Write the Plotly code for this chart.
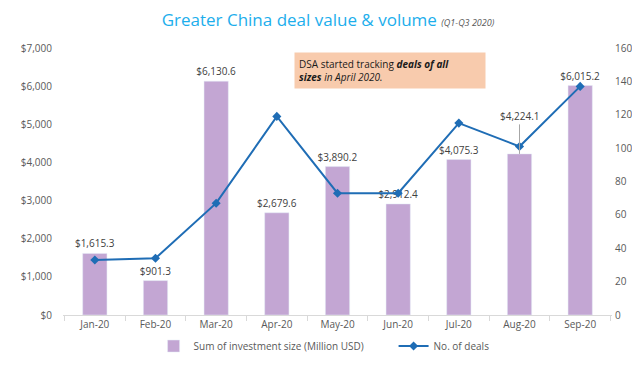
import plotly.graph_objects as go

months = ["Jan-20", "Feb-20", "Mar-20", "Apr-20", "May-20", "Jun-20", "Jul-20", "Aug-20", "Sep-20"]
investment = [1615.3, 901.3, 6130.6, 2679.6, 3890.2, 2912.4, 4075.3, 4224.1, 6015.2]
deals = [33, 34, 67, 119, 73, 73, 115, 101, 137]

FONT = "Open Sans"
GRAY = "#595959"

bar_text = ["" if m == "Aug-20" else f"${v:,.1f}" for m, v in zip(months, investment)]

fig = go.Figure()
fig.add_trace(go.Bar(
    x=months, y=investment, name="Sum of investment size (Million USD)",
    marker_color="#C3A6D3", width=0.4,
    text=bar_text, textposition="outside", cliponaxis=False, constraintext="none",
    textfont=dict(size=10, color="#404040", family=FONT),
))
fig.add_trace(go.Scatter(
    x=months, y=deals, name="No. of deals", yaxis="y2",
    mode="lines+markers", line=dict(color="#1F6DB5", width=2),
    marker=dict(symbol="diamond", size=7, color="#1F6DB5"),
))

aug_i = months.index("Aug-20")
fig.add_annotation(
    x=months[aug_i], y=investment[aug_i], text=f"${investment[aug_i]:,.1f}",
    showarrow=True, arrowhead=0, arrowcolor="#A6A6A6", arrowwidth=1,
    ax=0, ay=-38, standoff=0, font=dict(size=10, color="#404040", family=FONT),
)

fig.add_annotation(
    xref="paper", yref="paper", x=0.421, y=0.985, xanchor="left", yanchor="top",
    text="DSA started tracking <b><i>deals of all</i></b><br><b><i>sizes</i></b> <i>in April 2020.</i>",
    showarrow=False, align="left", bgcolor="#F8CBAD", width=182, height=27, borderpad=4,
    font=dict(size=10, color="#1a1a1a", family=FONT),
)

fig.update_layout(
    width=640, height=365,
    margin=dict(l=55, r=36, t=40, b=48),
    paper_bgcolor="white", plot_bgcolor="white",
    font=dict(family=FONT, color=GRAY, size=10),
    title=dict(
        text="Greater China deal value & volume <span style='font-size:9px;color:#595959'><i>(Q1-Q3 2020)</i></span>",
        x=0.5, xanchor="center", y=0.966, yanchor="middle",
        font=dict(size=17, color="#1CAEEC", family=FONT),
    ),
    bargap=0.6,
    showlegend=True,
    legend=dict(orientation="h", x=0.165, xanchor="left", y=-0.062, yanchor="top",
                font=dict(size=10, color=GRAY), entrywidth=195, entrywidthmode="pixels"),
    xaxis=dict(showline=True, linecolor="#D9D9D9", ticks="outside", tickson="boundaries",
               tickcolor="#D9D9D9", ticklen=5, showgrid=False,
               tickfont=dict(size=10, color=GRAY)),
    yaxis=dict(range=[0, 7000], dtick=1000, tickprefix="$", tickformat=",", showgrid=False,
               zeroline=False, tickfont=dict(size=10, color=GRAY), ticklabelstandoff=10),
    yaxis2=dict(range=[0, 160], dtick=20, overlaying="y", side="right", showgrid=False,
                zeroline=False, tickfont=dict(size=10, color=GRAY), ticklabelstandoff=2),
)

fig.write_html("out.html")
